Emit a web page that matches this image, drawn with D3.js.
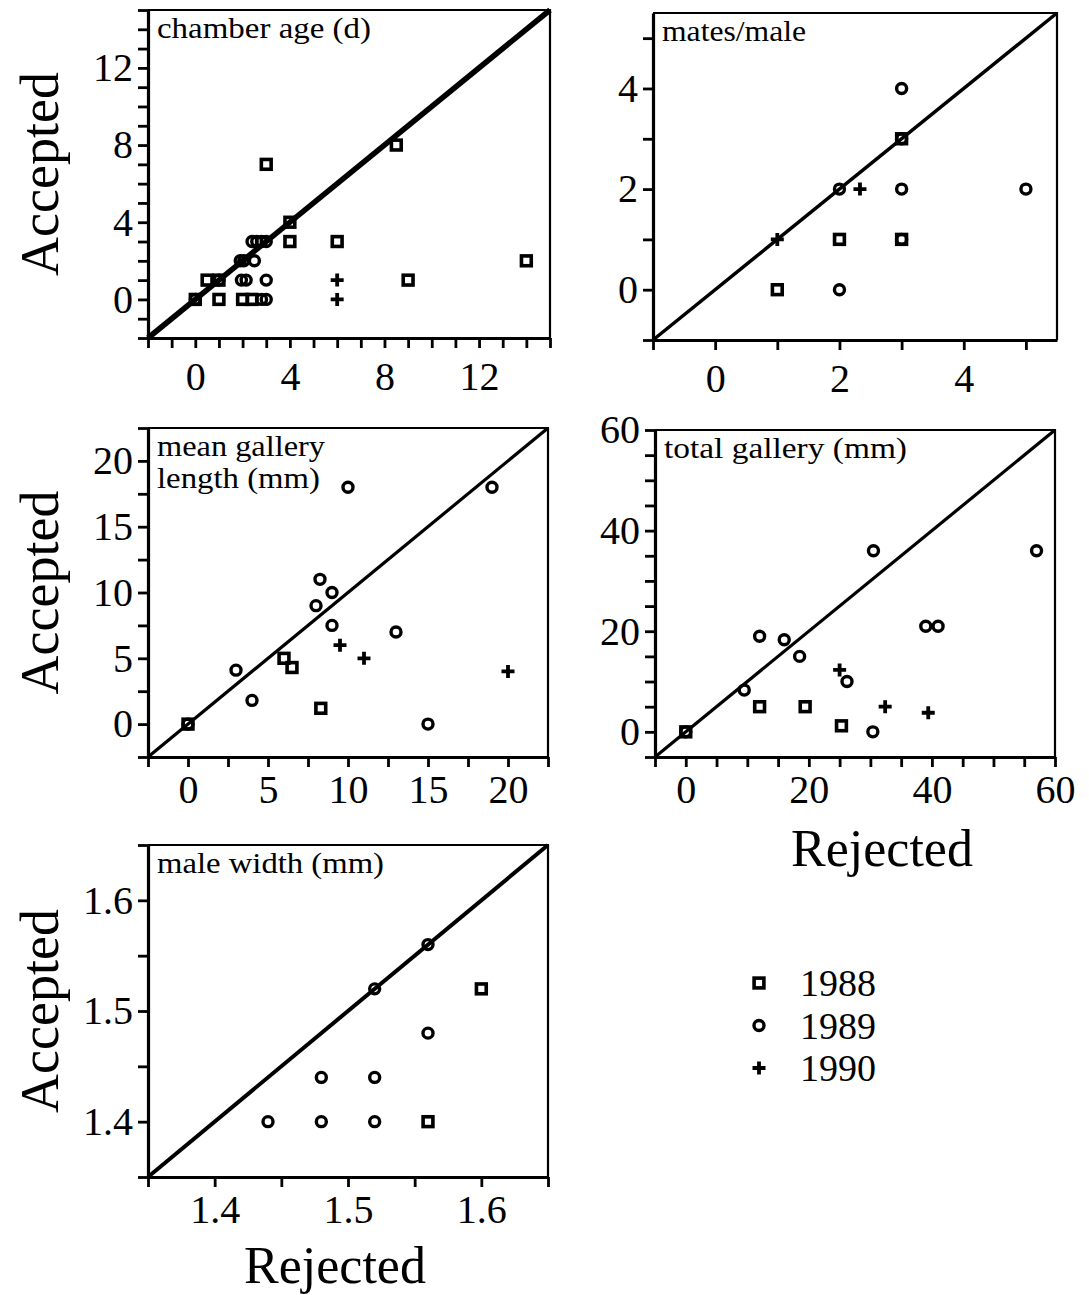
<!DOCTYPE html>
<html>
<head>
<meta charset="utf-8">
<script src="https://cdn.jsdelivr.net/npm/d3@7"></script>
<style>
  body { margin: 0; background: #fff; }
  svg text { font-family: "Liberation Serif", "Times New Roman", serif; fill: #000; }
</style>
</head>
<body>
<svg id="chart" width="1089" height="1295"></svg>
<script>
// Study years, one marker shape each
const years = ["1988", "1989", "1990"];

// Pairs are [rejected, accepted]
// chamber age (d)
const chamberAge1988 = [[0,0],[0.5,1],[1,1],[1,0],[2,0],[2.4,0],[3,7],[4,4],[4,3],[6,3],[8.5,8],[9,1],[14,2]];
const chamberAge1989 = [[0,0],[1,1],[1.9,2],[2.05,2],[2.5,2],[2.4,3],[2.6,3],[2.8,3],[3,3],[1.95,1],[2.15,1],[3,1],[2.8,0],[3,0]];
const chamberAge1990 = [[6,1],[6,0]];
const chamberAgeTicks = ["0","4","8","12"];

// mates/male
const mates1988 = [[1,0],[2,1],[3,1],[3,3]];
const mates1989 = [[2,0],[2,2],[3,2],[3,4],[5,2],[3,1],[3,3]];
const mates1990 = [[1,1],[2.33,2]];
const matesTicks = ["0","2","4"];

// mean gallery length (mm)
const meanGallery1988 = [[0,0],[6,5],[6.5,4.3],[8.3,1.2]];
const meanGallery1989 = [[0,0],[3,4.1],[4,1.8],[8,9],[8.25,11],[9,10],[9,7.5],[10,18],[13,7],[15,0],[19,18]];
const meanGallery1990 = [[9.5,6],[11,5],[20,4]];
const meanGalleryTicks = ["0","5","10","15","20"];

// total gallery (mm)
const totalGallery1988 = [[0,0],[12,5],[19.4,5],[25.3,1.2]];
const totalGallery1989 = [[0,0],[9.5,8.3],[12,19],[16,18.3],[18.5,15],[26.2,10],[30.4,0],[30.5,36],[39,21],[41,21],[57,36]];
const totalGallery1990 = [[25,12.3],[32.4,5],[39.4,3.8]];
const totalGalleryTicks = ["0","20","40","60"];

// male width (mm)
const maleWidth1988 = [[1.56,1.40],[1.60,1.52]];
const maleWidth1989 = [[1.44,1.40],[1.48,1.40],[1.52,1.40],[1.48,1.44],[1.52,1.44],[1.56,1.48],[1.52,1.52],[1.56,1.56]];
const maleWidth1990 = [];
const maleWidthTicks = ["1.4","1.5","1.6"];

const panels = [
  { title: ["chamber age (d)"], titleW: [214], box: [148, 550, 10, 338], domain: [-2, 15], step: 1,
    labels: chamberAgeTicks, series: [chamberAge1988, chamberAge1989, chamberAge1990], diag: 5.5, yTitle: true, xPad: 14 },
  { title: ["mates/male"], titleW: [144], box: [653, 1057, 13, 340], domain: [-1, 5.5], step: 1,
    labels: matesTicks, series: [mates1988, mates1989, mates1990], diag: 3.5, xPad: 14 },
  { title: ["mean gallery", "length (mm)"], titleW: [168, 163], box: [148, 548, 428, 757], domain: [-2.5, 22.5], step: 2.5,
    labels: meanGalleryTicks, series: [meanGallery1988, meanGallery1989, meanGallery1990], diag: 3.2, yTitle: true, xPad: 8 },
  { title: ["total gallery  (mm)"], titleW: [243], box: [655, 1055, 430, 757], domain: [-5, 60], step: 5,
    labels: totalGalleryTicks, series: [totalGallery1988, totalGallery1989, totalGallery1990], diag: 3.2,
    xTitle: [882, 866], xPad: 8 },
  { title: ["male width (mm)"], titleW: [227], box: [148, 548, 845, 1177], domain: [1.35, 1.65], step: 0.05,
    labels: maleWidthTicks, series: [maleWidth1988, maleWidth1989, maleWidth1990], diag: 4, yTitle: true,
    xTitle: [335, 1283], xPad: 8 }
];

const svg = d3.select("#chart");

// marker shapes: square, circle, plus
function drawMarker(g, kind, cx, cy) {
  if (kind === 0) {
    g.append("rect").attr("x", cx - 4.9).attr("y", cy - 4.9).attr("width", 9.8).attr("height", 9.8)
      .attr("fill", "none").attr("stroke", "#000").attr("stroke-width", 3.6);
  } else if (kind === 1) {
    g.append("circle").attr("cx", cx).attr("cy", cy).attr("r", 5)
      .attr("fill", "none").attr("stroke", "#000").attr("stroke-width", 3.4);
  } else {
    g.append("path").attr("d", `M${cx - 6.5},${cy}H${cx + 6.5}M${cx},${cy - 6.5}V${cy + 6.5}`)
      .attr("stroke", "#000").attr("stroke-width", 3.8).attr("fill", "none");
  }
}

panels.forEach(p => {
  const [x0, x1, y0, y1] = p.box;
  const x = d3.scaleLinear().domain(p.domain).range([x0, x1]);
  const y = d3.scaleLinear().domain(p.domain).range([y1, y0]);
  const n = Math.floor((p.domain[1] - p.domain[0]) / p.step + 1e-6);
  const tickVals = d3.range(n + 1).map(i => +(p.domain[0] + i * p.step).toFixed(6));
  const fmt = d => {
    const hit = p.labels.find(s => Math.abs(+s - d) < 1e-6);
    return hit === undefined ? "" : hit;
  };

  const g = svg.append("g");

  // frame top and right
  g.append("path").attr("d", `M${x0},${y0}H${x1}V${y1}`)
    .attr("fill", "none").attr("stroke", "#000").attr("stroke-width", 2.2);

  const xAxis = g.append("g").attr("transform", `translate(0,${y1})`)
    .call(d3.axisBottom(x).tickValues(tickVals).tickFormat(fmt).tickSize(10).tickSizeOuter(0).tickPadding(p.xPad));
  const yAxis = g.append("g").attr("transform", `translate(${x0},0)`)
    .call(d3.axisLeft(y).tickValues(tickVals).tickFormat(fmt).tickSize(10).tickSizeOuter(0).tickPadding(5));
  [xAxis, yAxis].forEach(a => {
    a.select(".domain").attr("stroke-width", 3.2);
    a.selectAll(".tick line").attr("stroke-width", 2.8);
    a.selectAll(".tick text").attr("font-size", 40).attr("font-family", "Liberation Serif");
  });

  // 1:1 line
  g.append("line")
    .attr("x1", x(p.domain[0])).attr("y1", y(p.domain[0]))
    .attr("x2", x(p.domain[1])).attr("y2", y(p.domain[1]))
    .attr("stroke", "#000").attr("stroke-width", p.diag);

  // points
  p.series.forEach((pts, k) => {
    pts.forEach(d => drawMarker(g, k, x(d[0]), y(d[1])));
  });

  // panel title
  p.title.forEach((t, i) => {
    g.append("text").attr("x", x0 + 9).attr("y", y0 + 28 + i * 32)
      .attr("font-size", 30).attr("textLength", p.titleW[i]).attr("lengthAdjust", "spacingAndGlyphs")
      .text(t);
  });

  if (p.yTitle) {
    g.append("text").attr("transform", `translate(58,${(y0 + y1) / 2}) rotate(-90)`)
      .attr("text-anchor", "middle").attr("font-size", 54).text("Accepted");
  }
  if (p.xTitle) {
    g.append("text").attr("x", p.xTitle[0]).attr("y", p.xTitle[1])
      .attr("text-anchor", "middle").attr("font-size", 52).text("Rejected");
  }
});

// legend
const legend = svg.append("g");
years.forEach((yr, k) => {
  const cy = 983 + k * 42.5;
  drawMarker(legend, k, 759, cy);
  legend.append("text").attr("x", 800).attr("y", cy).attr("dy", "0.35em")
    .attr("font-size", 38).text(yr);
});
</script>
</body>
</html>
